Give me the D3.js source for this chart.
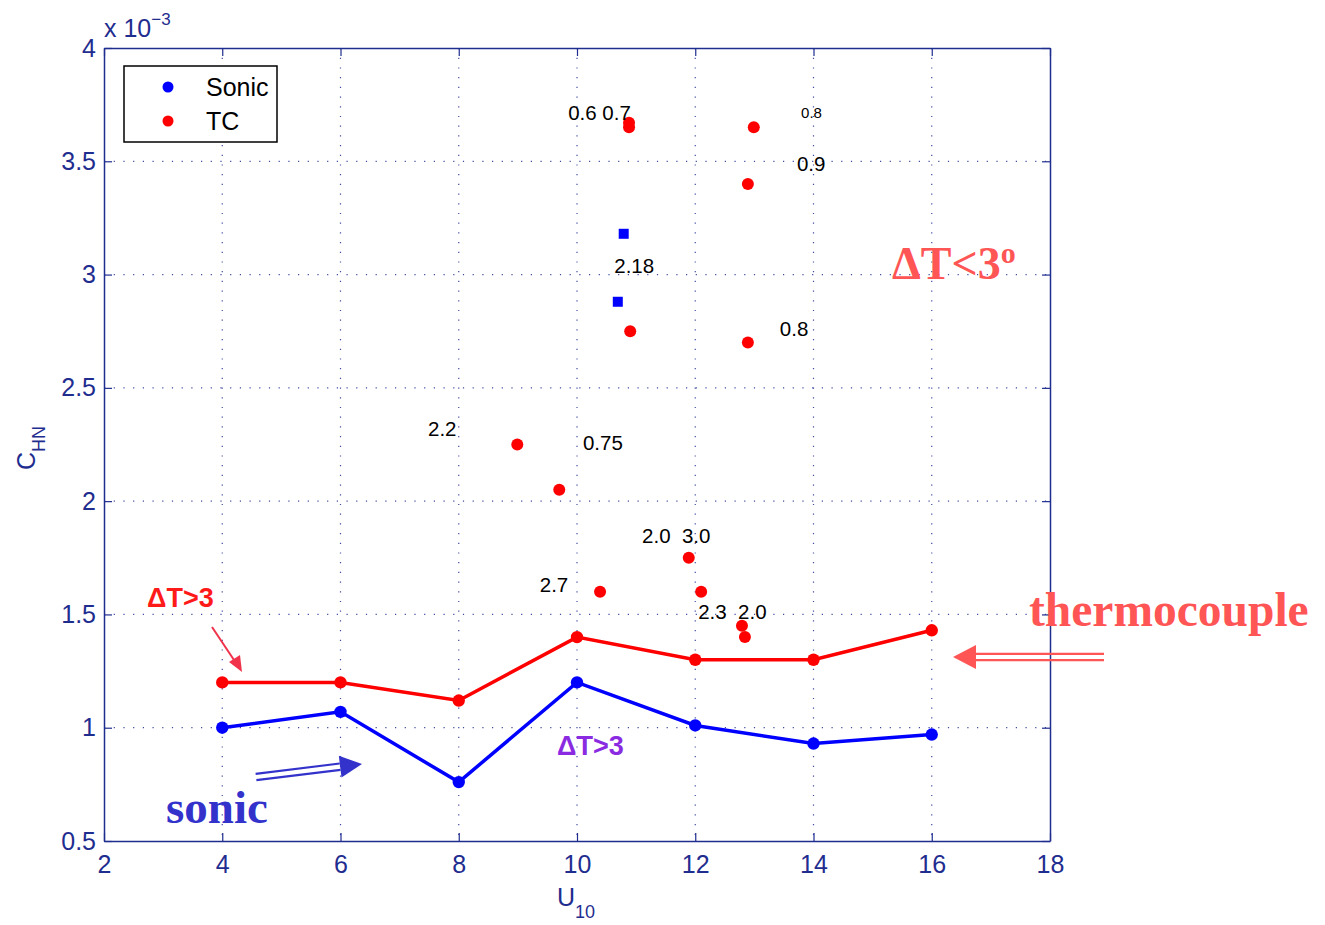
<!DOCTYPE html>
<html>
<head>
<meta charset="utf-8">
<script src="https://cdn.jsdelivr.net/npm/d3@7"></script>
<style>
  html, body { margin: 0; padding: 0; background: #fff; }
  svg { display: block; }
</style>
</head>
<body>
<svg id="chart" width="1325" height="925"></svg>
<script>
// Wind speed classes along the fitted curves
const windSpeeds = [4, 6, 8, 10, 12, 14, 16];
// Bulk heat transfer coefficient (units of 1e-3), dT > 3 cases
const sonicCHN = [1.00, 1.07, 0.76, 1.20, 1.01, 0.93, 0.97];
const tcCHN    = [1.20, 1.20, 1.12, 1.40, 1.30, 1.30, 1.43];

// Individual runs with dT < 3
const tcRunU   = [10.88, 10.88, 12.99, 12.89, 10.90, 12.89, 8.99, 9.70, 10.39, 11.89, 12.10, 12.79, 12.84];
const tcRunC   = [3.67, 3.65, 3.65, 3.40, 2.75, 2.70, 2.25, 2.05, 1.60, 1.75, 1.60, 1.45, 1.40];
const sonicRunU = [10.79, 10.69];
const sonicRunC = [3.18, 2.88];

// Temperature difference labels beside the runs: [u, c, text, small]
const runLabels = [
  [9.85, 3.717, "0.6 0.7", false],
  [13.79, 3.717, "0.8", true],
  [13.72, 3.49, "0.9", false],
  [10.63, 3.04, "2.18", false],
  [13.43, 2.76, "0.8", false],
  [7.48, 2.32, "2.2", false],
  [10.10, 2.257, "0.75", false],
  [11.10, 1.85, "2.0  3.0", false],
  [9.37, 1.634, "2.7", false],
  [12.05, 1.515, "2.3  2.0", false]
];

const xTicks = [2, 4, 6, 8, 10, 12, 14, 16, 18];
const yTicks = [0.5, 1, 1.5, 2, 2.5, 3, 3.5, 4];

const axisColor = "#1f2d8f";
const svg = d3.select("#chart");
const plotL = 104, plotR = 1050, plotT = 48, plotB = 841;

const x = d3.scaleLinear().domain([2, 18]).range([plotL, plotR]);
const y = d3.scaleLinear().domain([0.5, 4]).range([plotB, plotT]);

// dotted grid
const grid = svg.append("g").attr("stroke", axisColor).attr("stroke-width", 1.2)
  .attr("stroke-dasharray", "1.2,8.5").attr("opacity", 0.85);
grid.selectAll(".gx").data(xTicks.slice(1, -1)).join("line")
  .attr("x1", d => x(d)).attr("x2", d => x(d)).attr("y1", plotT).attr("y2", plotB);
grid.selectAll(".gy").data(yTicks.slice(1, -1)).join("line")
  .attr("y1", d => y(d)).attr("y2", d => y(d)).attr("x1", plotL).attr("x2", plotR);

// axes with inward ticks
const tickFont = "25px 'Liberation Sans', Arial, sans-serif";
function styleAxis(g) {
  g.select(".domain").attr("stroke", axisColor).attr("stroke-width", 1.5);
  g.selectAll(".tick line").attr("stroke", axisColor).attr("stroke-width", 1.2);
  g.selectAll(".tick text").attr("fill", axisColor).style("font", tickFont);
}
const xAxis = svg.append("g").attr("transform", `translate(0,${plotB})`)
  .call(d3.axisBottom(x).tickValues(xTicks).tickSizeInner(-8).tickSizeOuter(0).tickPadding(14).tickFormat(d3.format("d")));
styleAxis(xAxis);
const xAxisTop = svg.append("g").attr("transform", `translate(0,${plotT})`)
  .call(d3.axisTop(x).tickValues(xTicks).tickSizeInner(-8).tickSizeOuter(0).tickFormat(""));
styleAxis(xAxisTop);
const yAxis = svg.append("g").attr("transform", `translate(${plotL},0)`)
  .call(d3.axisLeft(y).tickValues(yTicks).tickSizeInner(-8).tickSizeOuter(0).tickPadding(8).tickFormat(d => String(d)));
styleAxis(yAxis);
const yAxisRight = svg.append("g").attr("transform", `translate(${plotR},0)`)
  .call(d3.axisRight(y).tickValues(yTicks).tickSizeInner(-8).tickSizeOuter(0).tickFormat(""));
styleAxis(yAxisRight);

// exponent note
const expo = svg.append("text").attr("x", 104).attr("y", 37).attr("fill", axisColor)
  .style("font", "25px 'Liberation Sans', Arial, sans-serif");
expo.append("tspan").text("x 10");
expo.append("tspan").attr("dy", -12).style("font-size", "17px").text("\u22123");

// axis titles
const xl = svg.append("text").attr("x", 557).attr("y", 906).attr("fill", axisColor)
  .style("font", "25px 'Liberation Sans', Arial, sans-serif");
xl.append("tspan").text("U");
xl.append("tspan").attr("dy", 12).style("font-size", "18px").text("10");
const yl = svg.append("text").attr("transform", "translate(35,470) rotate(-90)").attr("fill", axisColor)
  .style("font", "25px 'Liberation Sans', Arial, sans-serif");
yl.append("tspan").text("C");
yl.append("tspan").attr("dy", 10).style("font-size", "18px").text("HN");

// curves
const line = d3.line().x(d => x(d[0])).y(d => y(d[1]));
const sonicPts = windSpeeds.map((u, i) => [u, sonicCHN[i]]);
const tcPts = windSpeeds.map((u, i) => [u, tcCHN[i]]);
svg.append("path").datum(tcPts).attr("d", line).attr("fill", "none").attr("stroke", "#ff0000").attr("stroke-width", 3.5);
svg.append("path").datum(sonicPts).attr("d", line).attr("fill", "none").attr("stroke", "#0000ff").attr("stroke-width", 3.5);
svg.selectAll(".tcm").data(tcPts).join("circle").attr("cx", d => x(d[0])).attr("cy", d => y(d[1])).attr("r", 6.2).attr("fill", "#ff0000");
svg.selectAll(".sm").data(sonicPts).join("circle").attr("cx", d => x(d[0])).attr("cy", d => y(d[1])).attr("r", 6.2).attr("fill", "#0000ff");

// individual runs
svg.selectAll(".tcr").data(tcRunU.map((u, i) => [u, tcRunC[i]])).join("circle")
  .attr("cx", d => x(d[0])).attr("cy", d => y(d[1])).attr("r", 6).attr("fill", "#ff0000");
svg.selectAll(".sr").data(sonicRunU.map((u, i) => [u, sonicRunC[i]])).join("rect")
  .attr("x", d => x(d[0]) - 5).attr("y", d => y(d[1]) - 5).attr("width", 10).attr("height", 10).attr("fill", "#0000ff");

// run labels
svg.selectAll(".rl").data(runLabels).join("text")
  .attr("x", d => x(d[0])).attr("y", d => y(d[1])).attr("dominant-baseline", "central")
  .attr("fill", "#000").style("font-family", "'Liberation Sans', Arial, sans-serif")
  .style("font-size", d => d[3] ? "15px" : "20.5px").style("white-space", "pre")
  .attr("xml:space", "preserve").text(d => d[2]);

// legend
const lg = svg.append("g");
lg.append("rect").attr("x", 124).attr("y", 66).attr("width", 153).attr("height", 76)
  .attr("fill", "#fff").attr("stroke", "#000").attr("stroke-width", 1.5);
lg.append("circle").attr("cx", 168).attr("cy", 87).attr("r", 5.5).attr("fill", "#0000ff");
lg.append("circle").attr("cx", 168).attr("cy", 121).attr("r", 5.5).attr("fill", "#ff0000");
lg.append("text").attr("x", 206).attr("y", 87).attr("dominant-baseline", "central")
  .style("font", "25px 'Liberation Sans', Arial, sans-serif").text("Sonic");
lg.append("text").attr("x", 206).attr("y", 121).attr("dominant-baseline", "central")
  .style("font", "25px 'Liberation Sans', Arial, sans-serif").text("TC");

// annotations
svg.append("text").attr("x", 147).attr("y", 607).attr("fill", "#ff1a1a")
  .style("font", "bold 27px 'Liberation Sans', Arial, sans-serif").text("\u0394T>3");
svg.append("text").attr("x", 557).attr("y", 755).attr("fill", "#8a2be2")
  .style("font", "bold 27px 'Liberation Sans', Arial, sans-serif").text("\u0394T>3");
svg.append("text").attr("x", 166).attr("y", 823).attr("fill", "#3333cc")
  .style("font", "bold 47px 'Liberation Serif', 'Times New Roman', serif").text("sonic");
svg.append("text").attr("x", 1029).attr("y", 626).attr("fill", "#ff5555")
  .style("font", "bold 47.5px 'Liberation Serif', 'Times New Roman', serif").text("thermocouple");
const dt = svg.append("text").attr("x", 892).attr("y", 279).attr("fill", "#ff5555")
  .style("font", "bold 46px 'Liberation Serif', 'Times New Roman', serif");
dt.append("tspan").text("\u0394T<3");
dt.append("tspan").attr("dy", -16).style("font-size", "30px").text("o");

// single arrow
svg.append("line").attr("x1", 212).attr("y1", 627).attr("x2", 236).attr("y2", 663)
  .attr("stroke", "#f0324b").attr("stroke-width", 2);
svg.append("path").attr("d", "M242,672 L229,662 L240,655 Z").attr("fill", "#f0324b");

// double arrows
function doubleArrow(x1, y1, x2, y2, color, headLen, headHalf) {
  const dx = x2 - x1, dy = y2 - y1, L = Math.hypot(dx, dy);
  const ux = dx / L, uy = dy / L, nx = -uy, ny = ux;
  const bx = x2 - ux * headLen, by = y2 - uy * headLen;
  [-3.2, 3.2].forEach(o => {
    svg.append("line").attr("x1", x1 + nx * o).attr("y1", y1 + ny * o)
      .attr("x2", bx + nx * o).attr("y2", by + ny * o)
      .attr("stroke", color).attr("stroke-width", 2.2);
  });
  svg.append("path").attr("d",
    `M${x2},${y2} L${bx + nx * headHalf},${by + ny * headHalf} L${bx - nx * headHalf},${by - ny * headHalf} Z`)
    .attr("fill", color);
}
doubleArrow(256, 777, 362, 764, "#3333cc", 22, 11);
doubleArrow(1104, 657, 953, 657, "#ff5555", 23, 12);
</script>
</body>
</html>
